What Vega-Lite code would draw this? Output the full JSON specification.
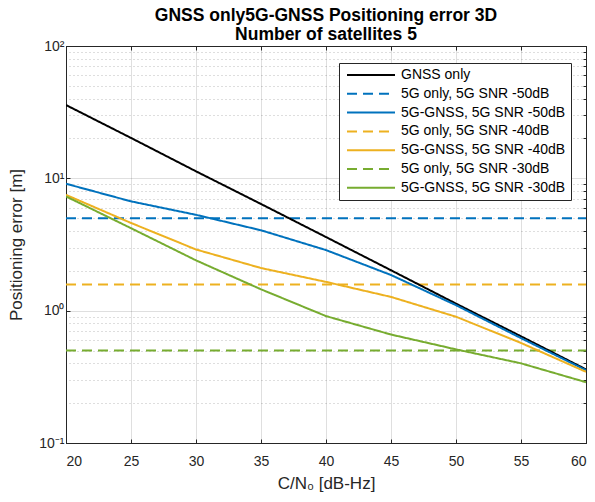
{
  "$schema": "https://vega.github.io/schema/vega-lite/v6.json",
  "width": 520,
  "height": 397,
  "autosize": {"type": "none"},
  "padding": {"left": 66, "top": 46, "right": 9, "bottom": 59},
  "background": "white",
  "title": {
    "text": ["GNSS only5G-GNSS Positioning error 3D", "Number of satellites 5"],
    "fontSize": 17.5,
    "fontWeight": "bold",
    "font": "Liberation Sans",
    "color": "#000000",
    "anchor": "middle",
    "frame": "group",
    "offset": -4,
    "lineHeight": 19
  },
  "config": {
    "font": "Liberation Sans",
    "view": {"stroke": "#262626", "strokeWidth": 1},
    "axis": {
      "labelFont": "Liberation Sans",
      "labelFontSize": 14,
      "labelColor": "#262626",
      "titleFont": "Liberation Sans",
      "titleFontSize": 17,
      "titleFontWeight": "normal",
      "titleColor": "#262626",
      "domainColor": "#262626",
      "tickColor": "#262626",
      "gridColor": "#262626",
      "gridOpacity": 0.15,
      "tickSize": -4
    },
    "legend": {
      "orient": "none",
      "legendX": 273,
      "legendY": 17,
      "padding": 5,
      "strokeColor": "#262626",
      "fillColor": "white",
      "labelFont": "Liberation Sans",
      "labelFontSize": 14,
      "labelColor": "#000000",
      "labelOffset": 43,
      "labelLimit": 400,
      "symbolType": "M-0.8,0H8.8",
      "symbolSize": 100,
      "symbolStrokeWidth": 2,
      "rowPadding": 4.8,
      "title": null
    }
  },
  "datasets": {
    "fused": [
      {"x": 20, "y": 35.8, "series": "GNSS only"},
      {"x": 25, "y": 20.2, "series": "GNSS only"},
      {"x": 30, "y": 11.3, "series": "GNSS only"},
      {"x": 35, "y": 6.4, "series": "GNSS only"},
      {"x": 40, "y": 3.6, "series": "GNSS only"},
      {"x": 45, "y": 2.02, "series": "GNSS only"},
      {"x": 50, "y": 1.13, "series": "GNSS only"},
      {"x": 55, "y": 0.64, "series": "GNSS only"},
      {"x": 60, "y": 0.36, "series": "GNSS only"},
      {"x": 20, "y": 9.1, "series": "5G-GNSS, 5G SNR -50dB"},
      {"x": 25, "y": 6.7, "series": "5G-GNSS, 5G SNR -50dB"},
      {"x": 30, "y": 5.3, "series": "5G-GNSS, 5G SNR -50dB"},
      {"x": 35, "y": 4.05, "series": "5G-GNSS, 5G SNR -50dB"},
      {"x": 40, "y": 2.87, "series": "5G-GNSS, 5G SNR -50dB"},
      {"x": 45, "y": 1.86, "series": "5G-GNSS, 5G SNR -50dB"},
      {"x": 50, "y": 1.1, "series": "5G-GNSS, 5G SNR -50dB"},
      {"x": 55, "y": 0.62, "series": "5G-GNSS, 5G SNR -50dB"},
      {"x": 60, "y": 0.355, "series": "5G-GNSS, 5G SNR -50dB"},
      {"x": 20, "y": 7.5, "series": "5G-GNSS, 5G SNR -40dB"},
      {"x": 25, "y": 4.6, "series": "5G-GNSS, 5G SNR -40dB"},
      {"x": 30, "y": 2.9, "series": "5G-GNSS, 5G SNR -40dB"},
      {"x": 35, "y": 2.1, "series": "5G-GNSS, 5G SNR -40dB"},
      {"x": 40, "y": 1.65, "series": "5G-GNSS, 5G SNR -40dB"},
      {"x": 45, "y": 1.27, "series": "5G-GNSS, 5G SNR -40dB"},
      {"x": 50, "y": 0.9, "series": "5G-GNSS, 5G SNR -40dB"},
      {"x": 55, "y": 0.57, "series": "5G-GNSS, 5G SNR -40dB"},
      {"x": 60, "y": 0.345, "series": "5G-GNSS, 5G SNR -40dB"},
      {"x": 20, "y": 7.3, "series": "5G-GNSS, 5G SNR -30dB"},
      {"x": 25, "y": 4.2, "series": "5G-GNSS, 5G SNR -30dB"},
      {"x": 30, "y": 2.4, "series": "5G-GNSS, 5G SNR -30dB"},
      {"x": 35, "y": 1.45, "series": "5G-GNSS, 5G SNR -30dB"},
      {"x": 40, "y": 0.91, "series": "5G-GNSS, 5G SNR -30dB"},
      {"x": 45, "y": 0.66, "series": "5G-GNSS, 5G SNR -30dB"},
      {"x": 50, "y": 0.51, "series": "5G-GNSS, 5G SNR -30dB"},
      {"x": 55, "y": 0.4, "series": "5G-GNSS, 5G SNR -30dB"},
      {"x": 60, "y": 0.288, "series": "5G-GNSS, 5G SNR -30dB"}
    ],
    "only5g": [
      {"x": 20, "y": 5.0, "series": "5G only, 5G SNR -50dB"},
      {"x": 60, "y": 5.0, "series": "5G only, 5G SNR -50dB"},
      {"x": 20, "y": 1.58, "series": "5G only, 5G SNR -40dB"},
      {"x": 60, "y": 1.58, "series": "5G only, 5G SNR -40dB"},
      {"x": 20, "y": 0.5, "series": "5G only, 5G SNR -30dB"},
      {"x": 60, "y": 0.5, "series": "5G only, 5G SNR -30dB"}
    ]
  },
  "encoding": {
    "color": {
      "field": "series",
      "type": "nominal",
      "scale": {
        "domain": ["GNSS only", "5G only, 5G SNR -50dB", "5G-GNSS, 5G SNR -50dB", "5G only, 5G SNR -40dB", "5G-GNSS, 5G SNR -40dB", "5G only, 5G SNR -30dB", "5G-GNSS, 5G SNR -30dB"],
        "range": ["#000000", "#0072BD", "#0072BD", "#EDB120", "#EDB120", "#77AC30", "#77AC30"]
      }
    },
    "strokeDash": {
      "field": "series",
      "type": "nominal",
      "scale": {
        "domain": ["GNSS only", "5G only, 5G SNR -50dB", "5G-GNSS, 5G SNR -50dB", "5G only, 5G SNR -40dB", "5G-GNSS, 5G SNR -40dB", "5G only, 5G SNR -30dB", "5G-GNSS, 5G SNR -30dB"],
        "range": [[1, 0], [10, 6], [1, 0], [10, 6], [1, 0], [10, 6], [1, 0]]
      }
    }
  },
  "layer": [
    {
      "data": {"name": "only5g"},
      "mark": {"type": "line", "strokeWidth": 2, "clip": true},
      "encoding": {
        "x": {
          "field": "x", "type": "quantitative",
          "scale": {"domain": [20, 60], "nice": false, "zero": false},
          "axis": {
            "orient": "top", "values": [20, 25, 30, 35, 40, 45, 50, 55, 60],
            "labels": false, "grid": false, "title": null
          }
        },
        "y": {
          "field": "y", "type": "quantitative",
          "scale": {"type": "log", "domain": [0.1, 100], "nice": false},
          "axis": {
            "orient": "right",
            "values": [0.2, 0.3, 0.4, 0.5, 0.6, 0.7, 0.8, 0.9, 2, 3, 4, 5, 6, 7, 8, 9, 20, 30, 40, 50, 60, 70, 80, 90],
            "labels": false, "title": null, "grid": true,
            "gridDash": [1, 3], "gridOpacity": 0.3, "tickSize": -3
          }
        }
      }
    },
    {
      "data": {"name": "fused"},
      "mark": {"type": "line", "strokeWidth": 2, "clip": true},
      "encoding": {
        "x": {
          "field": "x", "type": "quantitative",
          "axis": {
            "orient": "bottom", "values": [20, 25, 30, 35, 40, 45, 50, 55, 60],
            "title": "C/N₀ [dB-Hz]", "grid": true, "labelPadding": 15,
            "titleBaseline": "alphabetic", "titleY": 45
          }
        },
        "y": {
          "field": "y", "type": "quantitative",
          "axis": {
            "orient": "left", "values": [0.1, 1, 10, 100],
            "labelExpr": "datum.value >= 100 ? '10²' : datum.value >= 10 ? '10¹' : datum.value >= 1 ? '10⁰' : '10⁻¹'",
            "title": "Positioning error [m]", "grid": true, "labelPadding": 6,
            "titleX": -41, "titleY": 198.5
          }
        }
      }
    }
  ],
  "resolve": {"axis": {"x": "independent", "y": "independent"}}
}
